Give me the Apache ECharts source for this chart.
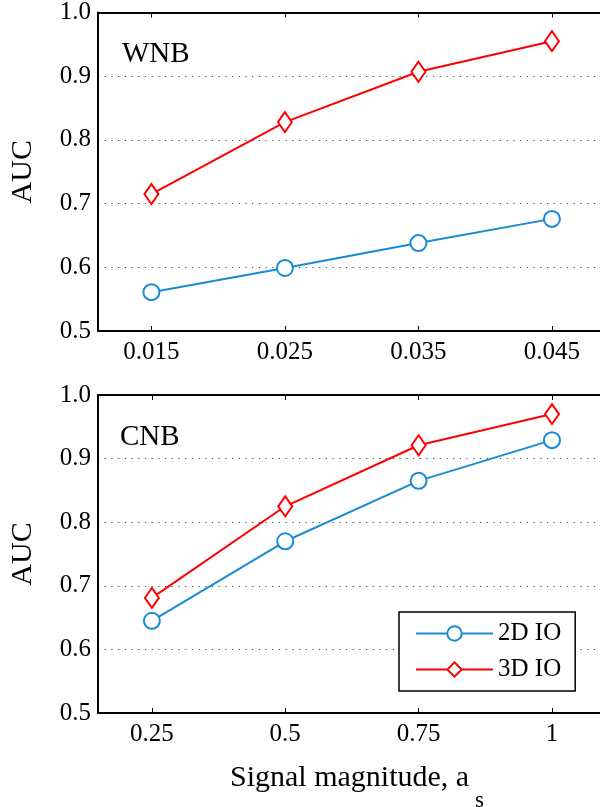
<!DOCTYPE html>
<html><head><meta charset="utf-8">
<script src="https://cdn.jsdelivr.net/npm/echarts@6/dist/echarts.min.js"></script>
<style>html,body{margin:0;padding:0;background:#fff}#c{width:600px;height:807px}</style>
</head><body><div id="c"></div>
<script>
const topX = [0.015, 0.025, 0.035, 0.045];
const topIO2D = [0.561, 0.599, 0.638, 0.676];
const topIO3D = [0.715, 0.828, 0.907, 0.955];
const botX = [0.25, 0.5, 0.75, 1];
const botIO2D = [0.645, 0.770, 0.865, 0.929];
const botIO3D = [0.681, 0.825, 0.921, 0.970];
const topXLabels = ['0.015', '0.025', '0.035', '0.045'];
const botXLabels = ['0.25', '0.5', '0.75', '1'];

const FONT = 'Liberation Serif';
const BLUE = '#1a8ad2';
const RED = '#ff0000';

const chart = echarts.init(document.getElementById('c'));
function pairs(xs, ys) { return xs.map((x, i) => [x, ys[i]]); }

function xAxisBottom(gi, min, max, vals, labels) {
  return {
    type: 'value', gridIndex: gi, min: min, max: max, position: 'bottom',
    axisLine: { show: true, onZero: false, lineStyle: { color: '#000', width: 2 } },
    axisTick: { show: true, inside: true, length: 5, customValues: vals, lineStyle: { color: '#000', width: 1 } },
    axisLabel: { customValues: vals, margin: 9, fontFamily: FONT, fontSize: 25, color: '#000',
      formatter: v => { const i = vals.indexOf(v); return i >= 0 ? labels[i] : ''; } },
    splitLine: { show: false }
  };
}
function xAxisTop(gi, min, max, vals) {
  return {
    type: 'value', gridIndex: gi, min: min, max: max, position: 'top',
    axisLine: { show: true, onZero: false, lineStyle: { color: '#000', width: 2 } },
    axisTick: { show: true, inside: true, length: 5, customValues: vals, lineStyle: { color: '#000', width: 1 } },
    axisLabel: { show: false },
    splitLine: { show: false }
  };
}
function yAxis(gi) {
  return {
    type: 'value', gridIndex: gi, min: 0.5, max: 1.0, interval: 0.1,
    axisLine: { show: true, lineStyle: { color: '#000', width: 2 } },
    axisTick: { show: false },
    axisLabel: { margin: 7, fontFamily: FONT, fontSize: 25, color: '#000',
      formatter: v => v.toFixed(1) },
    splitLine: { show: true, lineStyle: { color: '#444', width: 1, type: [1.2, 5.5] } },
    name: 'AUC', nameLocation: 'middle', nameGap: 60, nameRotate: 90,
    nameTextStyle: { fontFamily: FONT, fontSize: 30, color: '#000' }
  };
}
function s2d(xi, yi, data) {
  return { name: '2D IO', type: 'line', xAxisIndex: xi, yAxisIndex: yi, data: data,
    symbol: 'emptyCircle', symbolSize: 16, lineStyle: { color: BLUE, width: 2 },
    itemStyle: { color: BLUE, borderColor: BLUE, borderWidth: 2 }, z: 3 };
}
function s3d(xi, yi, data) {
  return { name: '3D IO', type: 'line', xAxisIndex: xi, yAxisIndex: yi, data: data,
    symbol: 'diamond', symbolSize: [14, 20], lineStyle: { color: RED, width: 2 },
    itemStyle: { color: '#fff', borderColor: RED, borderWidth: 2 }, z: 4 };
}

chart.setOption({
  animation: false,
  backgroundColor: '#fff',
  textStyle: { fontFamily: FONT },
  grid: [
    { left: 98, top: 12, width: 504, height: 319 },
    { left: 98, top: 395, width: 504, height: 318 }
  ],
  xAxis: [
    xAxisBottom(0, 0.011, 0.0486, topX, topXLabels),
    xAxisTop(0, 0.011, 0.0486, topX),
    xAxisBottom(1, 0.149, 1.09, botX, botXLabels),
    xAxisTop(1, 0.149, 1.09, botX)
  ],
  yAxis: [yAxis(0), yAxis(1)],
  title: [
    { text: 'WNB', left: 117, top: 35, textStyle: { fontFamily: FONT, fontSize: 29, fontWeight: 'normal', color: '#000' } },
    { text: 'CNB', left: 115, top: 418, textStyle: { fontFamily: FONT, fontSize: 29, fontWeight: 'normal', color: '#000' } }
  ],
  legend: {
    orient: 'vertical', left: 399, top: 612,
    data: ['2D IO', '3D IO'],
    itemWidth: 77, itemHeight: 18, itemGap: 11,
    padding: [9, 14, 9, 16],
    borderColor: '#000', borderWidth: 1.5, backgroundColor: '#fff',
    textStyle: { fontFamily: FONT, fontSize: 25, color: '#000' }
  },
  graphic: [
    { type: 'text', left: 230, top: 763, style: { text: 'Signal magnitude, a', font: '30px "Liberation Serif"', fill: '#000' } },
    { type: 'text', left: 475, top: 789, style: { text: 's', font: '23px "Liberation Serif"', fill: '#000' } }
  ],
  series: [
    s2d(0, 0, pairs(topX, topIO2D)),
    s3d(0, 0, pairs(topX, topIO3D)),
    s2d(2, 1, pairs(botX, botIO2D)),
    s3d(2, 1, pairs(botX, botIO3D))
  ]
});
</script></body></html>
